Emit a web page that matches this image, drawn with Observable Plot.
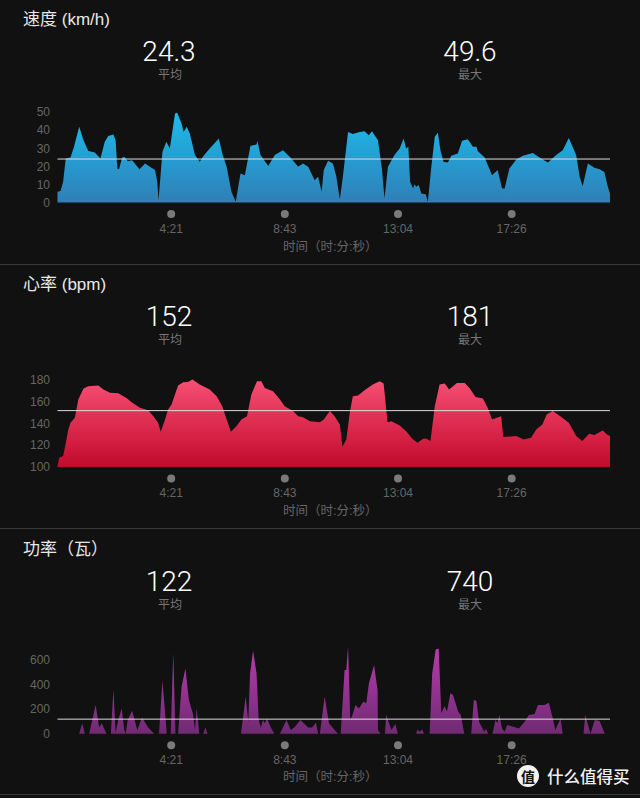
<!DOCTYPE html>
<html><head><meta charset="utf-8">
<script src="https://cdn.jsdelivr.net/npm/d3@7"></script>
<script src="https://cdn.jsdelivr.net/npm/@observablehq/plot@0.6"></script>
<style>
html,body{margin:0;padding:0;background:#111;overflow:hidden;width:640px;height:798px}
body{position:relative;font-family:"Liberation Sans","Noto Sans CJK SC",sans-serif}
.panel{position:absolute;left:0;width:640px;height:265px}
.panel svg{position:absolute;left:0;top:0;background:transparent}
.t{position:absolute;white-space:nowrap;transform:translate(-50%,-50%)}
.title{position:absolute;left:23px;color:#e8e8e8;font-size:17px;line-height:20px;font-family:"Liberation Sans","Noto Sans CJK SC",sans-serif;white-space:nowrap;transform:translateY(-50%)}
.num{color:#fff;font-family:Roboto,"Liberation Sans",sans-serif;font-weight:300;font-size:28px;line-height:24px}
.sub{color:#777;font-size:12px;line-height:14px;font-family:"Liberation Sans","Noto Sans CJK SC",sans-serif}
.sep{position:absolute;left:0;width:640px;height:1px;background:#3a3a3a}
.wm{position:absolute;color:#f2f2f2;font-family:"Noto Sans CJK SC",sans-serif;font-weight:500;white-space:nowrap;transform:translateY(-50%)}
</style></head><body>
<script>
const tickTimes = [261, 523, 784, 1046];
const tickLabels = ["4:21", "8:43", "13:04", "17:26"];
const xEnd = 1274;
const xTitle = "时间（时:分:秒）";

const speedTime = [0,0,7,13,19,30,38,50,60,71,86,99,109,117,129,134,138,142,149,155,162,172,189,202,213,225,230,233,242,251,259,271,276,286,291,298,305,317,328,336,351,372,380,390,401,411,422,432,445,459,461,468,486,501,520,536,555,566,578,593,601,609,614,624,635,643,651,658,670,681,697,708,718,725,739,748,754,762,777,789,798,804,809,813,820,823,827,833,839,849,854,862,870,877,883,890,900,908,923,933,946,958,966,969,985,1002,1015,1025,1031,1042,1058,1073,1096,1115,1131,1150,1165,1179,1196,1204,1211,1223,1238,1250,1261,1269,1274];
const speedValue = [0,5.9,6.4,11.4,24.3,24.9,30.8,41.8,34.4,28.5,27.6,24.3,33.5,36.8,37.6,34.4,18.8,18.4,24.9,25.2,22.8,23.4,18.4,21.5,19.7,17.9,11.4,1.3,28,33.5,29.8,49.2,49.6,43.6,39,41.8,38.1,26.2,22.5,25.6,29.8,35.4,27.1,19.7,5.9,0.4,16,15.1,31.3,32,34.1,26.2,20.1,26.2,28.9,25.2,19.7,21.5,19.7,12.3,14.2,5.9,17.9,23,21.5,14.2,1.7,14.2,39,37.8,39,39.4,37.2,39.4,34.4,18.8,2.2,19.7,26.2,29.8,35.4,29.8,30.8,11.4,7.7,10.1,8.7,9.6,5,4.6,0.4,19.7,36.3,38.5,28.9,22.5,22.1,25.8,27.1,34.1,35,30.8,30.8,28.5,24.9,15.1,17.9,7.7,7.7,18.8,23.8,25.8,27.4,24.3,22.1,26.2,28.9,35.7,26.2,14.2,9,21.5,19.2,18.4,16.9,8.7,5];

const heartTime = [0,4,13,17,25,30,40,48,60,71,94,106,121,140,159,171,190,209,221,232,238,248,255,263,278,290,301,311,328,351,367,380,390,400,413,424,437,447,460,470,478,497,513,524,543,555,566,582,605,614,628,639,651,657,666,674,681,693,708,727,743,752,761,770,789,804,818,830,843,850,860,870,881,893,903,921,939,950,964,981,992,1002,1023,1028,1058,1075,1092,1104,1118,1128,1142,1161,1179,1196,1210,1226,1238,1257,1267,1274];
const heartValue = [100.7,108.5,110,117.6,134.3,140.4,145,161.7,171.7,173.9,174.5,170.8,167.8,167.5,163.2,159.3,154.1,152,146.5,140.4,132.2,143.5,152.6,157.1,174.5,177.5,177.8,179.9,175.4,170.8,164.7,155.6,143.5,132.2,137.4,143.5,146.5,166.3,178.4,178.4,172.3,169.3,161.7,155.6,151.1,146.5,145.6,141.9,141,143.5,151.1,146.5,138.9,118.5,125.2,149.5,164.7,165.3,170.2,175.4,178.4,176.3,141,141.9,138,132.8,125.8,122.2,125.8,126.1,123.7,155.6,175.4,176.3,170.8,176.9,176.9,172.3,164.1,162.6,154.1,143.5,146.5,127.4,128.3,125.2,126.7,134.3,138.9,148,151.1,145.9,140.4,128.3,123.7,130.4,129.2,133.4,129.8,128.3];

const powerTime = [0,50,57,63,73,88,96,102,113,123,129,134,140,148,154,157,162,172,184,195,209,223,234,242,252,261,267,272,278,286,295,303,313,317,321,327,336,341,346,423,434,440,444,451,459,464,469,474,478,483,492,500,513,528,538,546,560,578,587,596,601,605,616,626,639,647,653,662,666,670,675,679,687,695,705,712,718,730,738,739,745,755,758,770,779,785,827,830,835,841,845,858,864,872,879,885,893,898,906,912,924,930,938,954,960,966,972,984,988,993,1003,1010,1014,1019,1025,1031,1037,1051,1064,1077,1087,1100,1108,1123,1133,1143,1148,1160,1165,1213,1217,1229,1239,1250,1262,1274];
const powerValue = [0,0,84,0,0,232,51,84,0,0,354,8,111,205,30,0,111,186,30,132,51,0,0,429,0,0,651,0,0,381,529,273,151,30,205,0,0,51,0,0,300,97,489,672,489,111,51,111,84,124,51,0,0,111,30,51,111,51,51,89,0,0,300,84,30,0,0,516,516,705,124,138,232,205,259,246,408,556,354,30,0,0,151,30,78,0,0,35,16,35,0,0,489,683,691,165,224,178,327,313,178,151,0,0,273,267,97,16,43,0,0,111,84,151,43,16,70,57,43,97,151,159,232,232,251,111,30,124,0,0,151,0,111,103,0,0];

const speedTicks = [0,10,20,30,40,50];
const heartTicks = [100,120,140,160,180];
const powerTicks = [0,200,400,600];

const panels = [
  {id:"s", top:0, h:264, title:"速度 (km/h)", titleY:20, numY:51.5, subY:75, avg:"24.3", max:"49.6", avgV:24.3, labelDy:47.5,
   time:speedTime, value:speedValue, ticks:speedTicks, domain:[0,50], mt:112, mb:61.5, grad:["#1dbcec","#2f7fb6"]},
  {id:"h", top:264, h:265, title:"心率 (bpm)", titleY:20.5, numY:52.5, subY:76, avg:"152", max:"181", avgV:152, labelDy:47.5,
   time:heartTime, value:heartValue, ticks:heartTicks, domain:[100,180], mt:115.5, mb:62, grad:["#f74f74","#c20a2c"]},
  {id:"p", top:529, h:265, title:"功率（瓦）", titleY:20.5, numY:52.5, subY:76, avg:"122", max:"740", avgV:122, labelDy:46.5,
   time:powerTime, value:powerValue, ticks:powerTicks, domain:[0,600], mt:130.7, mb:60.3, grad:["#b93cae","#6f2a72"]}
];

function addText(parent, cls, x, y, s){
  const d=document.createElement("div"); d.className=cls; d.textContent=s;
  d.style.top=y+"px"; if(x!==null) d.style.left=x+"px"; parent.appendChild(d);
}

for(const p of panels){
  const wrap=document.createElement("div"); wrap.className="panel"; wrap.style.top=p.top+"px"; wrap.style.height=p.h+"px";
  document.body.appendChild(wrap);
  const table=p.time.map((t,i)=>({t,v:p.value[i]}));
  const gradient=()=>{
    const defs=d3.create("svg:defs");
    const g=defs.append("linearGradient").attr("id","grad-"+p.id).attr("x1",0).attr("x2",0).attr("y1",0).attr("y2",1);
    g.append("stop").attr("offset","0%").attr("stop-color",p.grad[0]);
    g.append("stop").attr("offset","100%").attr("stop-color",p.grad[1]);
    return defs.node();
  };
  const chart=Plot.plot({
    width:640,height:p.h,marginLeft:57.5,marginRight:30,marginTop:p.mt,marginBottom:p.mb,
    style:{background:"transparent",fontFamily:'"Liberation Sans","Noto Sans CJK SC",sans-serif',fontSize:"12px",color:"#666"},
    x:{domain:[0,xEnd]},
    y:{domain:p.domain},
    marks:[
      gradient,
      Plot.axisY({ticks:p.ticks,tickSize:0,tickPadding:8,label:null,color:"#666",fontSize:12}),
      Plot.axisX({ticks:tickTimes,tickFormat:(d)=>tickLabels[tickTimes.indexOf(d)],tickSize:0,tickPadding:21,label:null,color:"#666",fontSize:12}),
      Plot.text([xTitle],{text:d=>d,frameAnchor:"bottom",dx:-4,dy:p.labelDy,fill:"#666",fontSize:12.5}),
      Plot.areaY(table,{x:"t",y1:p.domain[0],y2:"v",fill:`url(#grad-${p.id})`,curve:"linear"}),
      Plot.ruleY([p.avgV],{stroke:"#dcdcdc",strokeWidth:1}),
      Plot.dot(tickTimes,{x:d=>d,frameAnchor:"bottom",dy:11,r:4,fill:"#7a7a7a"})
    ]
  });
  wrap.appendChild(chart);
  addText(wrap,"title",null,p.titleY,p.title);
  addText(wrap,"t num",169,p.numY,p.avg);
  addText(wrap,"t num",470,p.numY,p.max);
  addText(wrap,"t sub",170,p.subY,"平均");
  addText(wrap,"t sub",470,p.subY,"最大");
}
for(const y of [264,528,794]){
  const s=document.createElement("div"); s.className="sep"; s.style.top=y+"px"; document.body.appendChild(s);
}
const logo=document.createElement("div");
logo.textContent="值";
logo.style.cssText='position:absolute;left:517px;top:765px;width:22px;height:22px;border-radius:50%;background:#f2f2f2;color:#111;font:700 14px/22px "Noto Sans CJK SC",sans-serif;text-align:center';
document.body.appendChild(logo);
const wm=document.createElement("div"); wm.className="wm"; wm.textContent="什么值得买";
wm.style.cssText+=";left:547px;top:776px;font-size:16.5px";
document.body.appendChild(wm);
</script>
</body></html>
